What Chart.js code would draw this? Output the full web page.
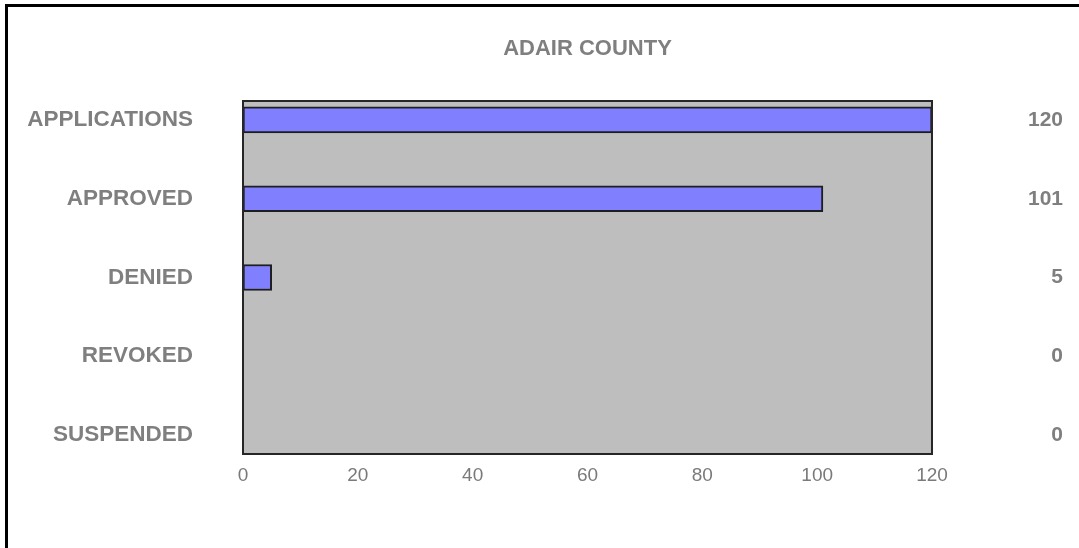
<!DOCTYPE html>
<html>
<head>
<meta charset="utf-8">
<title>ADAIR COUNTY</title>
<script src="https://cdn.jsdelivr.net/npm/chart.js@4/dist/chart.umd.min.js"></script>
<style>
	html, body { margin:0; padding:0; background:#fff; overflow:hidden; }
	#frame { position:absolute; left:5px; top:4px; width:1200px; height:700px; border:3px solid #000; }
	#chart { position:absolute; left:0; top:0; }
</style>
</head>
<body>
<div id="frame"></div>
<canvas id="chart" width="1079" height="548"></canvas>
<script>
var categories = ["APPLICATIONS", "APPROVED", "DENIED", "REVOKED", "SUSPENDED"];
var counts = [120, 101, 5, 0, 0];
var xTicks = [0, 20, 40, 60, 80, 100, 120];
var chartTitle = "ADAIR COUNTY";

//category bands are cut a quarter short at both ends
function ShiftBands(scale) {
	scale._startValue = -0.24;
	scale._valueRange = scale.getLabels().length - 1 + 0.48;
}
var plotBox = {
	id:'plotBox',
	beforeDatasetsDraw:function (chart) {
		var a = chart.chartArea, ctx = chart.ctx;
		ctx.save();
		ctx.fillStyle = '#bebebe';
		ctx.fillRect(a.left, a.top, a.right - a.left, a.bottom - a.top);
		ctx.restore();
	},
	afterDatasetsDraw:function (chart) {
		var a = chart.chartArea, ctx = chart.ctx;
		ctx.save();
		ctx.strokeStyle = '#262626';
		ctx.lineWidth = 2;
		ctx.strokeRect(a.left, a.top, a.right - a.left, a.bottom - a.top);
		ctx.restore();
	}
};
var fontFamily = '"Liberation Sans", Arial, sans-serif';
const ctx = document.getElementById('chart').getContext('2d');
const myChart = new Chart(ctx, {
	type:'bar',
	plugins:[plotBox],
	data:{
		labels:categories,
		datasets:[{
			data:counts,
			backgroundColor:'#8080ff',
			borderColor:'#1e1e1e',
			borderWidth:2,
			borderSkipped:false,
			barThickness:26
		}]
	},
	options:{
		indexAxis:'y',
		responsive:false,
		devicePixelRatio:1,
		animation:false,
		layout:{padding:{left:0, right:16, top:0, bottom:34}},
		plugins:{
			legend:{display:false},
			tooltip:{enabled:false},
			title:{
				display:true,
				text:chartTitle,
				fullSize:false,
				color:'#7f7f7f',
				font:{family:fontFamily, size:22, weight:'bold'},
				padding:{top:35.5, bottom:39.1}
			}
		},
		scales:{
			x:{
				type:'linear',
				min:0,
				max:120,
				afterBuildTicks:function (scale) {
					scale.ticks = xTicks.map(v => ({value:v}));
				},
				afterFit:function (scale) { scale.height = 60; },
				grid:{display:false, drawTicks:false, tickLength:0},
				border:{display:false},
				ticks:{
					color:'#7a7a7a',
					padding:10,
					font:{family:fontFamily, size:19}
				}
			},
			y:{
				type:'category',
				position:'left',
				afterBuildTicks:ShiftBands,
				afterFit:function (scale) { scale.width = 243; },
				grid:{display:false, drawTicks:false, tickLength:0},
				border:{display:false},
				ticks:{color:'#7f7f7f', padding:50, crossAlign:'near', font:{family:fontFamily, size:22.5, weight:'bold'}}
			},
			y2:{
				type:'category',
				position:'right',
				labels:counts.map(v => String(v)),
				afterBuildTicks:ShiftBands,
				afterFit:function (scale) { scale.width = 131; },
				grid:{display:false, drawTicks:false, tickLength:0},
				border:{display:false},
				ticks:{color:'#7f7f7f', padding:10, crossAlign:'far', font:{family:fontFamily, size:21, weight:'bold'}}
			}
		}
	}
});
</script>
</body>
</html>
